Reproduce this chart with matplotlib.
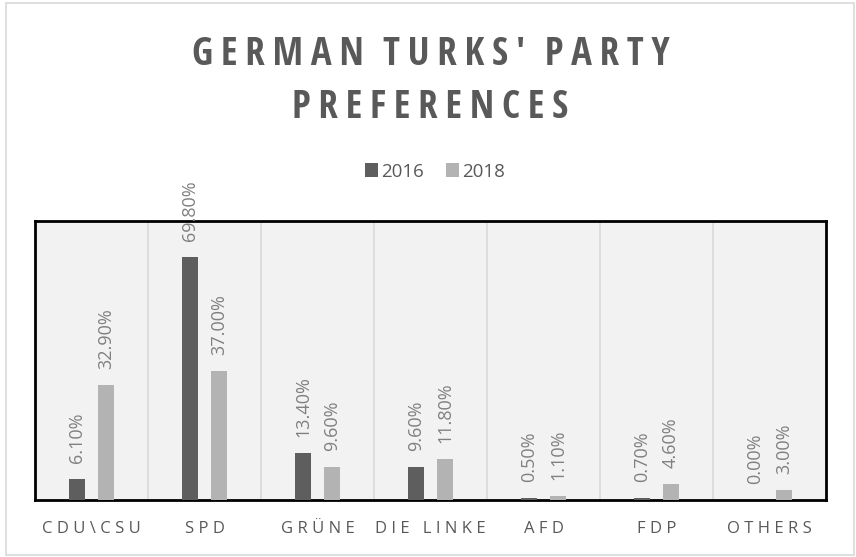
import numpy as np
import matplotlib
matplotlib.use("Agg")
import matplotlib.pyplot as plt
from matplotlib.patches import Rectangle

# data
parties = ["CDU\\CSU", "SPD", "GRÜNE", "DIE LINKE", "AFD", "FDP", "OTHERS"]
share_2016 = [6.1, 69.8, 13.4, 9.6, 0.5, 0.7, 0.0]
share_2018 = [32.9, 37.0, 9.6, 11.8, 1.1, 4.6, 3.0]
years = ["2016", "2018"]

dark = "#5e5e5e"
light = "#b3b3b3"
text_col = "#595959"
label_col = "#808080"

plt.rcParams["font.family"] = ["Open Sans", "DejaVu Sans"]


def spaced(s, sep="\u2009"):
    # crude letter spacing
    return sep.join(s).replace(sep + " " + sep, "  ")


fig = plt.figure(figsize=(8.56, 5.57), dpi=100)
ax = fig.add_axes([0.0409, 0.1023, 0.924, 0.501])

# light border round the whole chart
fig.patches.append(Rectangle((0.007, 0.004), 0.991, 0.99, transform=fig.transFigure,
                             fill=False, edgecolor="#d9d9d9", linewidth=1.2))

x = np.arange(len(parties))
off = 0.128
w = 0.14
b1 = ax.bar(x - off, share_2016, width=w, color=dark, label=years[0], zorder=3)
b2 = ax.bar(x + off, share_2018, width=w, color=light, label=years[1], zorder=3)

# rotated value labels above each bar
for bars, vals in ((b1, share_2016), (b2, share_2018)):
    for rect, v in zip(bars, vals):
        ax.annotate("%.2f%%" % v, (rect.get_x() + rect.get_width() / 2, v),
                    xytext=(0, 16), textcoords="offset pixels",
                    rotation=90, ha="center", va="bottom",
                    fontsize=13, color=label_col, annotation_clip=False, zorder=4)

ax.set_xlim(-0.5, len(parties) - 0.5)
ax.set_ylim(0, 80)
ax.set_facecolor("#f2f2f2")
for s in ax.spines.values():
    s.set_linewidth(2)
    s.set_color("black")

ax.set_yticks([])
ax.set_xticks(x)
ax.set_xticklabels([" ".join(p) for p in parties], fontsize=12, color=text_col)
ax.tick_params(axis="x", length=0, pad=15)
ax.set_xticks(np.arange(0.5, len(parties) - 1, 1), minor=True)
ax.tick_params(axis="x", which="minor", length=0)
ax.grid(axis="x", which="minor", color="#d9d9d9", linewidth=1.2, zorder=0)

title_font = ["Open Sans Condensed", "Open Sans", "DejaVu Sans"]
fig.text(0.503, 0.902, spaced("GERMAN TURKS' PARTY"), ha="center", va="center",
         fontsize=28, fontweight="bold", color=text_col, family=title_font)
fig.text(0.503, 0.806, spaced("PREFERENCES"), ha="center", va="center",
         fontsize=28, fontweight="bold", color=text_col, family=title_font)

fig.legend(handles=[b1, b2], labels=years, loc="center", bbox_to_anchor=(0.508, 0.692),
           ncol=2, frameon=False, fontsize=13.5, handlelength=0.7, handleheight=0.7,
           handletextpad=0.15, columnspacing=1.2, labelcolor=text_col)

fig.savefig("out.png", dpi=100)
